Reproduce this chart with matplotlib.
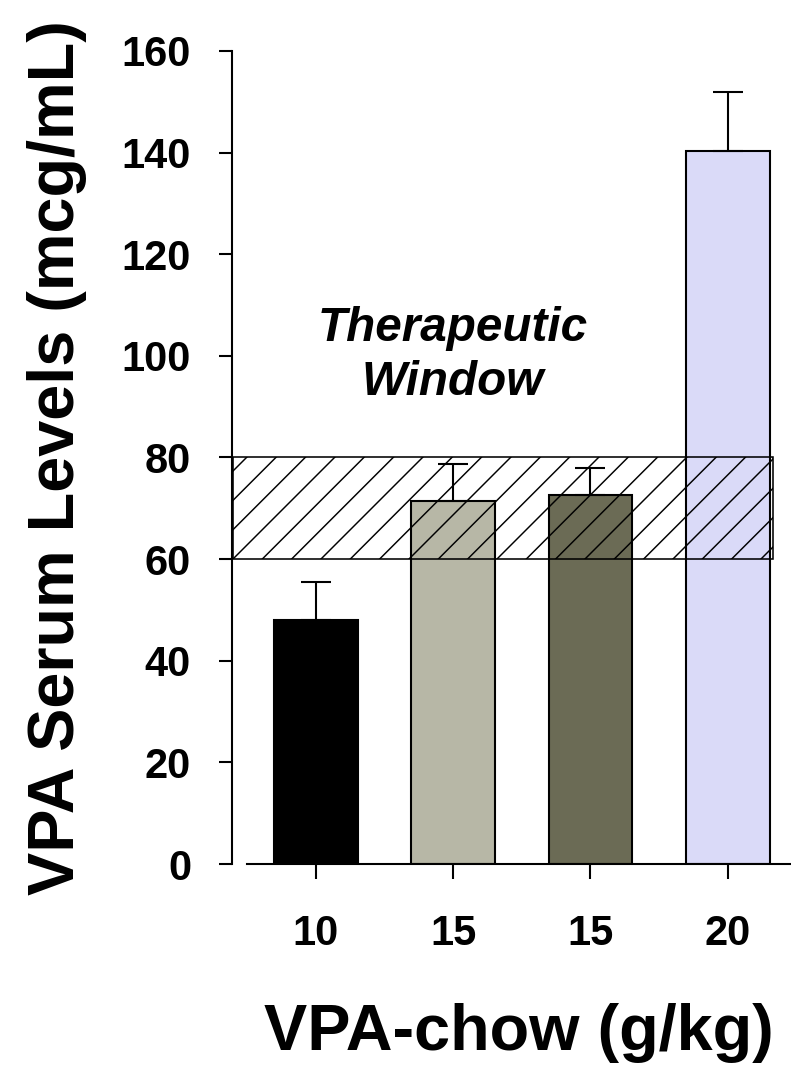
import matplotlib
matplotlib.use('Agg')
import matplotlib.pyplot as plt
from matplotlib.patches import Rectangle

# Serum valproate levels per VPA-chow dose group.
dose_labels = ['10', '15', '15', '20']
serum_means = [48.0, 71.5, 72.6, 140.4]
serum_sem = [7.5, 7.2, 5.4, 11.6]
bar_colors = ['#000000', '#b7b7a6', '#6b6b55', '#dadaf8']

# Therapeutic window (mcg/mL).
window_low = 60
window_high = 80

# Hatch spacing scales with dpi.
dpi = 176
plt.rcParams['font.family'] = ['Liberation Sans', 'DejaVu Sans']
plt.rcParams['font.weight'] = 'bold'
plt.rcParams['hatch.linewidth'] = 0.6
plt.rcParams['hatch.color'] = 'black'

fig = plt.figure(figsize=(791 / dpi, 1068 / dpi), dpi=dpi)
ax = fig.add_axes([247 / 791, 1 - 864 / 1068, 544 / 791, (864 - 51) / 1068])

x = list(range(len(dose_labels)))
ax.bar(x, serum_means, width=0.61, color=bar_colors, edgecolor='black',
       linewidth=0.85, zorder=2)
ax.errorbar(x, serum_means, yerr=[[0] * len(x), serum_sem], fmt='none',
            ecolor='black', elinewidth=0.85, capsize=6.1, capthick=0.85,
            zorder=3)

# Hatched band for the therapeutic range, starting at the y spine.
band = Rectangle((-0.602, window_low), 3.93, window_high - window_low,
                 facecolor='none', edgecolor='black', hatch='//',
                 linewidth=0.65, zorder=4, clip_on=False)
ax.add_patch(band)

ax.text(1.0, 100, 'Therapeutic\nWindow', ha='center', va='center',
        fontsize=19.5, fontstyle='italic', fontweight='bold',
        linespacing=1.25)

ax.set_xlim(-0.5, 3.46)
ax.set_ylim(0, 160)
ax.set_xticks(x)
ax.set_xticklabels(dose_labels)
ax.set_yticks(range(0, 161, 20))

ax.spines['top'].set_visible(False)
ax.spines['right'].set_visible(False)
ax.spines['left'].set_position(('outward', 6.1))
for side in ['left', 'bottom']:
    ax.spines[side].set_linewidth(0.85)

ax.tick_params(axis='y', direction='out', length=5.3, width=0.85,
               pad=11.5, labelsize=17)
ax.tick_params(axis='x', direction='out', length=6.1, width=0.85,
               pad=14.5, labelsize=17)

ax.set_ylabel('VPA Serum Levels (mcg/mL)', fontsize=26.5, fontweight='bold',
              labelpad=14)
ax.set_xlabel('VPA-chow (g/kg)', fontsize=26.5, fontweight='bold', labelpad=20)

fig.savefig('out.png', dpi=dpi)
